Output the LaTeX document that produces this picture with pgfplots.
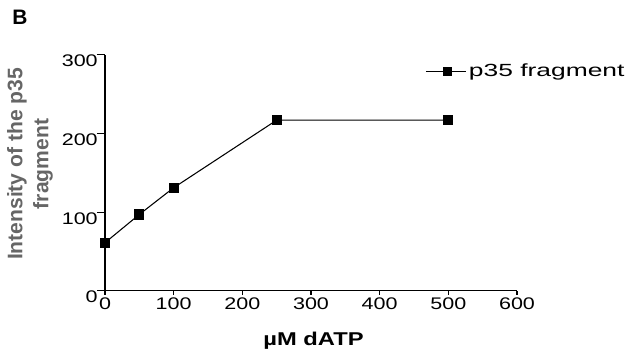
\documentclass[border=0pt]{standalone}
\usepackage{pgfplots}
\pgfplotsset{compat=1.18}
\usepackage{fontspec}
\setmainfont{Liberation Sans}[FakeStretch=1.28]
\newfontfamily\plainfont{Liberation Sans}
\newfontfamily\legfont{Liberation Sans}[FakeStretch=1.5]
\begin{document}
\begin{tikzpicture}
\useasboundingbox (-78.75pt,-44.5pt) rectangle (390pt,218pt);
\begin{axis}[
  at={(0,0)}, anchor=south west, scale only axis,
  width=309pt, height=176.8pt,
  xmin=0, xmax=600, ymin=0, ymax=300,
  axis x line*=bottom, axis y line*=left,
  axis line style={line width=1.1pt},
  xtick={0,100,...,600}, ytick={0,100,200,300},
  tick align=outside,
  xtick style={/pgfplots/major tick length=3pt, line width=1pt, black},
  ytick style={/pgfplots/major tick length=6pt, line width=0.8pt, black},
  tick label style={font=\fontsize{12.6}{14}\selectfont, /pgf/number format/assume math mode=true},
  yticklabel style={anchor=north east, inner sep=0pt, xshift=-1pt},
  xticklabel style={anchor=north, inner sep=0pt, yshift=-1pt},
  xlabel={µM dATP},
  xlabel style={font=\bfseries\fontsize{13.9}{16}\selectfont, at={(axis description cs:0.506,-0.212)}, anchor=center},
  ylabel={Intensity of the p35\\fragment},
  ylabel style={font=\plainfont\bfseries\fontsize{15.8}{19.5}\selectfont, align=center, text=black!60, at={(axis description cs:-0.182,0.5375)}, anchor=center},
  clip=false,
  legend style={at={(axis cs:466,279.5)}, anchor=west, draw=none, fill=none, font=\legfont\fontsize{13.2}{15}\selectfont, inner sep=0pt, nodes={inner sep=2pt}},
  legend image code/.code={\draw[mark repeat=2,mark phase=2,#1,mark size=3pt] plot coordinates {(0pt,0pt) (16pt,0pt) (30pt,0pt)};},
]
\addplot[black, line width=0.8pt, mark=square*, mark size=3.4pt, mark options={solid, fill=black}] coordinates {
  (0,61) (50,97) (100,131) (250,217) (500,217)
};
\addlegendentry{p35 fragment}
\end{axis}
\node[font=\plainfont\bfseries\fontsize{15.7}{18}\selectfont] at (-63.75pt,204.9pt) {B};
\end{tikzpicture}
\end{document}
